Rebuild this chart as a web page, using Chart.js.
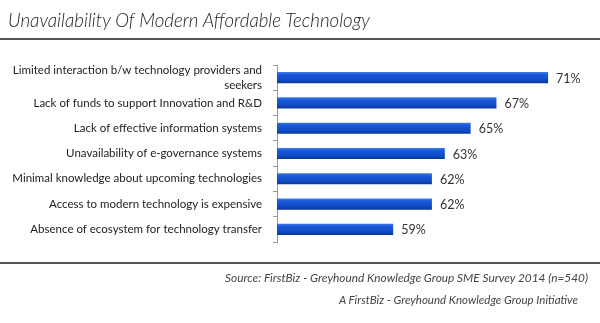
<!DOCTYPE html>
<html>
<head>
<meta charset="utf-8">
<script src="https://cdn.jsdelivr.net/npm/chart.js@4/dist/chart.umd.min.js"></script>
<style>
  html, body { margin: 0; padding: 0; background: #fff; }
  #wrap { position: relative; width: 600px; height: 323px; overflow: hidden; }
  #chart { position: absolute; left: 0; top: 0; }
  .fit { position: absolute; white-space: nowrap; transform-origin: 0 0; font-style: italic; }
  #title { left: 8px; top: 9px; font: italic 300 20px/20px Lato, sans-serif; color: #222; }
  .rule { position: absolute; left: 0; width: 600px; height: 2px; background: #555; }
  #src { top: 272px; font: italic 12px/12px Lato, sans-serif; color: #444; }
  #credit { top: 294px; font: italic 12px/12px Lato, sans-serif; color: #444; }
</style>
</head>
<body>
<div id="wrap">
  <canvas id="chart" width="600" height="323"></canvas>
  <div id="title" class="fit" data-left="8" data-width="362">Unavailability Of Modern Affordable Technology</div>
  <div class="rule" style="top:38px"></div>
  <div class="rule" style="top:262px"></div>
  <div id="src" class="fit" data-left="225" data-width="363">Source: FirstBiz - Greyhound Knowledge Group SME Survey 2014 (n=540)</div>
  <div id="credit" class="fit" data-left="339" data-width="239">A FirstBiz - Greyhound Knowledge Group Initiative</div>
</div>
<script>
// Survey responses: share of SMEs citing each barrier
const categories = [
  ["Limited interaction b/w technology providers and", "seekers"],
  "Lack of funds to support Innovation and R&D",
  "Lack of effective information systems",
  "Unavailability of e-governance systems",
  "Minimal knowledge about upcoming technologies",
  "Access to modern technology is expensive",
  "Absence of ecosystem for technology transfer"
];
const shares = [71, 67, 65, 63, 62, 62, 59];
const valueSuffix = "%";

// Fit the HTML captions into their boxes
document.querySelectorAll('.fit').forEach(el => {
  el.style.left = el.dataset.left + 'px';
  const w = el.getBoundingClientRect().width;
  const target = +el.dataset.width;
  el.style.transform = 'scaleX(' + (target / w) + ')';
});

// Blue bars with a soft vertical sheen
function barFill(c) {
  const chart = c.chart;
  const y = chart.scales && chart.scales.y;
  const cy = (y && c.dataIndex !== undefined) ? y.getPixelForValue(c.dataIndex) : NaN;
  if (!Number.isFinite(cy)) return '#1450cc';
  const g = chart.ctx.createLinearGradient(0, cy - 5.5, 0, cy + 5.5);
  g.addColorStop(0, '#3f7ae8');
  g.addColorStop(0.25, '#1858d8');
  g.addColorStop(0.7, '#114cc6');
  g.addColorStop(1, '#09369a');
  return g;
}

const valueLabels = {
  id: 'valueLabels',
  afterDatasetsDraw(chart) {
    const { ctx } = chart;
    const meta = chart.getDatasetMeta(0);
    ctx.save();
    ctx.font = '12.5px Lato, sans-serif';
    ctx.fillStyle = '#333';
    ctx.textAlign = 'left';
    ctx.textBaseline = 'middle';
    meta.data.forEach((bar, i) => {
      ctx.fillText(shares[i] + valueSuffix, bar.x + 8, bar.y + 1);
    });
    ctx.restore();
  }
};

new Chart(document.getElementById('chart'), {
  type: 'bar',
  data: {
    labels: categories,
    datasets: [{
      data: shares,
      backgroundColor: barFill,
      borderWidth: 0,
      categoryPercentage: 1,
      barPercentage: 0.44
    }]
  },
  options: {
    indexAxis: 'y',
    responsive: false,
    animation: false,
    devicePixelRatio: 1,
    layout: { padding: { top: 65, bottom: 81, left: 0, right: 39 } },
    plugins: { legend: { display: false }, tooltip: { enabled: false } },
    scales: {
      x: { display: false, min: 50, max: 72 },
      y: {
        afterFit(scale) { scale.width = 277; },
        border: { display: true, color: '#999', width: 1 },
        grid: { offset: true, drawOnChartArea: false, drawTicks: true, tickLength: 4, color: '#999' },
        ticks: {
          autoSkip: false,
          padding: 11,
          color: '#222',
          font: { family: 'Lato, sans-serif', size: 11.5, lineHeight: 1.35 }
        }
      }
    }
  },
  plugins: [valueLabels]
});
</script>
</body>
</html>
